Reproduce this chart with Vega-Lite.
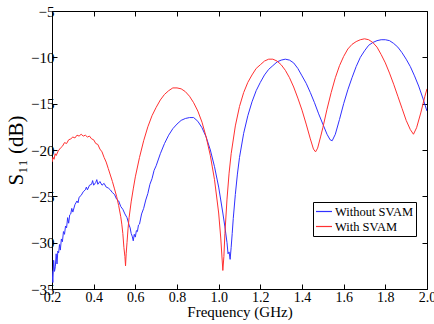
{
  "$schema": "https://vega.github.io/schema/vega-lite/v6.json",
  "width": 375,
  "height": 278,
  "autosize": {"type": "none"},
  "padding": {"left": 52, "top": 11, "right": 7, "bottom": 35},
  "background": "white",
  "config": {
    "view": {"stroke": "black", "strokeWidth": 1},
    "font": "Liberation Serif",
    "axis": {
      "grid": false,
      "domain": false,
      "tickColor": "black",
      "tickSize": -5,
      "labelColor": "black",
      "labelFont": "Liberation Serif",
      "labelFontSize": 15,
      "titleFont": "Liberation Serif",
      "titleFontSize": 16,
      "titleFontWeight": "normal",
      "titleColor": "black"
    }
  },
  "resolve": {"axis": {"x": "independent", "y": "independent"}},
  "datasets": {
    "without": [
      {"f":0.200,"s":-33.0},{"f":0.204,"s":-34.3},{"f":0.208,"s":-31.9},{"f":0.212,"s":-33.1},{"f":0.216,"s":-32.6},{"f":0.220,"s":-31.2},{"f":0.224,"s":-32.3},{"f":0.228,"s":-30.9},{"f":0.232,"s":-31.1},{"f":0.236,"s":-30.2},{"f":0.240,"s":-30.8},{"f":0.245,"s":-29.6},{"f":0.250,"s":-29.9},{"f":0.255,"s":-28.8},{"f":0.260,"s":-29.1},{"f":0.265,"s":-28.2},{"f":0.270,"s":-28.4},{"f":0.275,"s":-27.3},{"f":0.280,"s":-27.9},{"f":0.285,"s":-27.0},{"f":0.290,"s":-26.9},{"f":0.295,"s":-26.3},{"f":0.300,"s":-26.7},{"f":0.310,"s":-25.9},{"f":0.320,"s":-25.5},{"f":0.325,"s":-25.7},{"f":0.330,"s":-25.1},{"f":0.340,"s":-24.9},{"f":0.350,"s":-24.5},{"f":0.360,"s":-24.3},{"f":0.365,"s":-24.0},{"f":0.370,"s":-24.3},{"f":0.380,"s":-23.8},{"f":0.390,"s":-23.7},{"f":0.395,"s":-23.3},{"f":0.400,"s":-23.8},{"f":0.410,"s":-23.5},{"f":0.415,"s":-23.2},{"f":0.420,"s":-23.7},{"f":0.430,"s":-23.4},{"f":0.440,"s":-23.8},{"f":0.450,"s":-23.6},{"f":0.460,"s":-24.0},{"f":0.470,"s":-24.1},{"f":0.480,"s":-24.3},{"f":0.490,"s":-24.6},{"f":0.500,"s":-24.8},{"f":0.510,"s":-25.3},{"f":0.520,"s":-25.5},{"f":0.530,"s":-26.1},{"f":0.540,"s":-26.4},{"f":0.550,"s":-26.9},{"f":0.560,"s":-27.3},{"f":0.570,"s":-28.1},{"f":0.575,"s":-28.4},{"f":0.580,"s":-29.0},{"f":0.585,"s":-29.3},{"f":0.590,"s":-29.8},{"f":0.595,"s":-29.1},{"f":0.600,"s":-29.4},{"f":0.605,"s":-28.7},{"f":0.610,"s":-28.8},{"f":0.615,"s":-28.1},{"f":0.620,"s":-28.0},{"f":0.630,"s":-26.9},{"f":0.640,"s":-26.3},{"f":0.650,"s":-25.4},{"f":0.660,"s":-24.7},{"f":0.670,"s":-23.7},{"f":0.680,"s":-23.1},{"f":0.690,"s":-22.2},{"f":0.700,"s":-21.7},{"f":0.72,"s":-20.4},{"f":0.74,"s":-19.3},{"f":0.76,"s":-18.4},{"f":0.78,"s":-17.7},{"f":0.80,"s":-17.2},{"f":0.82,"s":-16.8},{"f":0.84,"s":-16.6},{"f":0.86,"s":-16.5},{"f":0.88,"s":-16.5},{"f":0.90,"s":-16.9},{"f":0.92,"s":-17.6},{"f":0.94,"s":-18.6},{"f":0.96,"s":-20.0},{"f":0.98,"s":-21.8},{"f":1.00,"s":-24.0},{"f":1.02,"s":-26.8},{"f":1.03,"s":-28.3},{"f":1.04,"s":-30.0},{"f":1.045,"s":-31.2},{"f":1.05,"s":-31.0},{"f":1.055,"s":-31.8},{"f":1.06,"s":-30.5},{"f":1.065,"s":-29.0},{"f":1.07,"s":-27.4},{"f":1.08,"s":-24.8},{"f":1.09,"s":-22.6},{"f":1.10,"s":-20.8},{"f":1.12,"s":-18.2},{"f":1.14,"s":-16.3},{"f":1.16,"s":-14.8},{"f":1.18,"s":-13.6},{"f":1.20,"s":-12.7},{"f":1.22,"s":-11.9},{"f":1.24,"s":-11.3},{"f":1.26,"s":-10.9},{"f":1.28,"s":-10.5},{"f":1.30,"s":-10.3},{"f":1.32,"s":-10.2},{"f":1.34,"s":-10.3},{"f":1.36,"s":-10.6},{"f":1.38,"s":-11.2},{"f":1.40,"s":-12.0},{"f":1.42,"s":-12.8},{"f":1.44,"s":-13.8},{"f":1.46,"s":-14.9},{"f":1.48,"s":-16.1},{"f":1.50,"s":-17.2},{"f":1.52,"s":-18.3},{"f":1.535,"s":-18.9},{"f":1.545,"s":-19.0},{"f":1.56,"s":-18.3},{"f":1.58,"s":-16.7},{"f":1.60,"s":-15.0},{"f":1.62,"s":-13.5},{"f":1.64,"s":-12.2},{"f":1.66,"s":-11.0},{"f":1.68,"s":-10.0},{"f":1.70,"s":-9.3},{"f":1.72,"s":-8.7},{"f":1.74,"s":-8.4},{"f":1.76,"s":-8.2},{"f":1.78,"s":-8.1},{"f":1.80,"s":-8.1},{"f":1.82,"s":-8.2},{"f":1.84,"s":-8.5},{"f":1.86,"s":-8.9},{"f":1.88,"s":-9.5},{"f":1.90,"s":-10.2},{"f":1.92,"s":-11.0},{"f":1.94,"s":-12.0},{"f":1.96,"s":-13.1},{"f":1.98,"s":-14.4},{"f":2.00,"s":-15.8}
    ],
    "with": [
      {"f":0.200,"s":-21.3},{"f":0.205,"s":-20.8},{"f":0.210,"s":-21.0},{"f":0.215,"s":-20.4},{"f":0.220,"s":-20.6},{"f":0.230,"s":-20.1},{"f":0.240,"s":-19.8},{"f":0.250,"s":-19.6},{"f":0.260,"s":-19.2},{"f":0.270,"s":-19.3},{"f":0.280,"s":-18.9},{"f":0.290,"s":-18.8},{"f":0.300,"s":-18.6},{"f":0.310,"s":-18.7},{"f":0.320,"s":-18.4},{"f":0.330,"s":-18.5},{"f":0.340,"s":-18.3},{"f":0.350,"s":-18.5},{"f":0.360,"s":-18.4},{"f":0.370,"s":-18.6},{"f":0.380,"s":-18.5},{"f":0.390,"s":-18.8},{"f":0.400,"s":-18.9},{"f":0.410,"s":-19.3},{"f":0.420,"s":-19.4},{"f":0.430,"s":-19.9},{"f":0.440,"s":-20.2},{"f":0.450,"s":-20.8},{"f":0.460,"s":-21.3},{"f":0.470,"s":-22.0},{"f":0.480,"s":-22.7},{"f":0.490,"s":-23.4},{"f":0.500,"s":-24.2},{"f":0.510,"s":-25.0},{"f":0.520,"s":-26.0},{"f":0.530,"s":-27.2},{"f":0.535,"s":-28.0},{"f":0.540,"s":-29.0},{"f":0.545,"s":-30.5},{"f":0.550,"s":-31.5},{"f":0.553,"s":-32.5},{"f":0.556,"s":-31.2},{"f":0.560,"s":-30.0},{"f":0.565,"s":-28.5},{"f":0.570,"s":-27.3},{"f":0.580,"s":-25.6},{"f":0.590,"s":-24.2},{"f":0.600,"s":-22.9},{"f":0.62,"s":-20.8},{"f":0.64,"s":-19.0},{"f":0.66,"s":-17.5},{"f":0.68,"s":-16.3},{"f":0.70,"s":-15.4},{"f":0.72,"s":-14.6},{"f":0.74,"s":-14.0},{"f":0.76,"s":-13.6},{"f":0.78,"s":-13.3},{"f":0.80,"s":-13.3},{"f":0.82,"s":-13.4},{"f":0.84,"s":-13.7},{"f":0.86,"s":-14.2},{"f":0.88,"s":-14.9},{"f":0.90,"s":-15.8},{"f":0.92,"s":-17.0},{"f":0.94,"s":-18.6},{"f":0.96,"s":-20.6},{"f":0.98,"s":-23.2},{"f":1.00,"s":-26.8},{"f":1.01,"s":-29.5},{"f":1.02,"s":-33.0},{"f":1.025,"s":-31.5},{"f":1.03,"s":-29.0},{"f":1.04,"s":-25.3},{"f":1.05,"s":-22.5},{"f":1.06,"s":-20.4},{"f":1.08,"s":-17.4},{"f":1.10,"s":-15.3},{"f":1.12,"s":-13.8},{"f":1.14,"s":-12.7},{"f":1.16,"s":-11.9},{"f":1.18,"s":-11.2},{"f":1.20,"s":-10.8},{"f":1.22,"s":-10.4},{"f":1.24,"s":-10.2},{"f":1.26,"s":-10.2},{"f":1.28,"s":-10.4},{"f":1.30,"s":-10.8},{"f":1.32,"s":-11.4},{"f":1.34,"s":-12.2},{"f":1.36,"s":-13.2},{"f":1.38,"s":-14.4},{"f":1.40,"s":-15.7},{"f":1.42,"s":-17.2},{"f":1.44,"s":-18.8},{"f":1.455,"s":-19.9},{"f":1.465,"s":-20.2},{"f":1.475,"s":-19.8},{"f":1.49,"s":-18.5},{"f":1.50,"s":-17.6},{"f":1.52,"s":-15.6},{"f":1.54,"s":-13.8},{"f":1.56,"s":-12.2},{"f":1.58,"s":-10.9},{"f":1.60,"s":-9.9},{"f":1.62,"s":-9.1},{"f":1.64,"s":-8.6},{"f":1.66,"s":-8.3},{"f":1.68,"s":-8.1},{"f":1.70,"s":-8.0},{"f":1.72,"s":-8.1},{"f":1.74,"s":-8.4},{"f":1.76,"s":-8.9},{"f":1.78,"s":-9.7},{"f":1.80,"s":-10.6},{"f":1.82,"s":-11.7},{"f":1.84,"s":-12.9},{"f":1.86,"s":-14.2},{"f":1.88,"s":-15.5},{"f":1.90,"s":-16.8},{"f":1.92,"s":-17.8},{"f":1.935,"s":-18.3},{"f":1.95,"s":-17.6},{"f":1.97,"s":-16.0},{"f":1.99,"s":-14.2},{"f":2.00,"s":-13.4}
    ]
  },
  "layer": [
    {
      "data": {"name": "without"},
      "transform": [{"calculate": "'Without SVAM'", "as": "series"}],
      "mark": {"type": "line", "strokeWidth": 1, "clip": true},
      "encoding": {
        "x": {"field": "f", "type": "quantitative", "scale": {"domain": [0.2, 2.0], "nice": false, "zero": false},
              "axis": {"title": "Frequency (GHz)", "values": [0.2,0.4,0.6,0.8,1.0,1.2,1.4,1.6,1.8,2.0], "format": ".1f", "labelFontSize": 14, "labelPadding": 6, "titlePadding": 0, "titleFontSize": 15, "labelFlush": false}},
        "y": {"field": "s", "type": "quantitative", "scale": {"domain": [-35, -5], "nice": false, "zero": false},
              "axis": {"title": "S₁₁ (dB)", "values": [-35,-30,-25,-20,-15,-10,-5], "labelPadding": 3, "titlePadding": 4, "titleFontSize": 21, "labelFlush": false}},
        "color": {"field": "series", "type": "nominal",
                  "scale": {"domain": ["Without SVAM", "With SVAM"], "range": ["#3030ff", "#ff3030"]},
                  "legend": {"title": null, "orient": "none", "legendX": 261, "legendY": 191,
                             "strokeColor": "black", "fillColor": "white", "padding": 2,
                             "symbolType": "stroke", "symbolSize": 256, "symbolStrokeWidth": 1.2,
                             "labelFont": "Liberation Serif", "labelFontSize": 12.5, "labelColor": "black",
                             "rowPadding": 0, "labelOffset": 2, "clipHeight": 15}}
      }
    },
    {
      "data": {"name": "with"},
      "transform": [{"calculate": "'With SVAM'", "as": "series"}],
      "mark": {"type": "line", "strokeWidth": 1, "clip": true},
      "encoding": {
        "x": {"field": "f", "type": "quantitative", "axis": {"orient": "top", "title": null, "labels": false, "values": [0.2,0.4,0.6,0.8,1.0,1.2,1.4,1.6,1.8,2.0]}},
        "y": {"field": "s", "type": "quantitative", "axis": {"orient": "right", "title": null, "labels": false, "values": [-35,-30,-25,-20,-15,-10,-5]}},
        "color": {"field": "series", "type": "nominal"}
      }
    }
  ]
}
